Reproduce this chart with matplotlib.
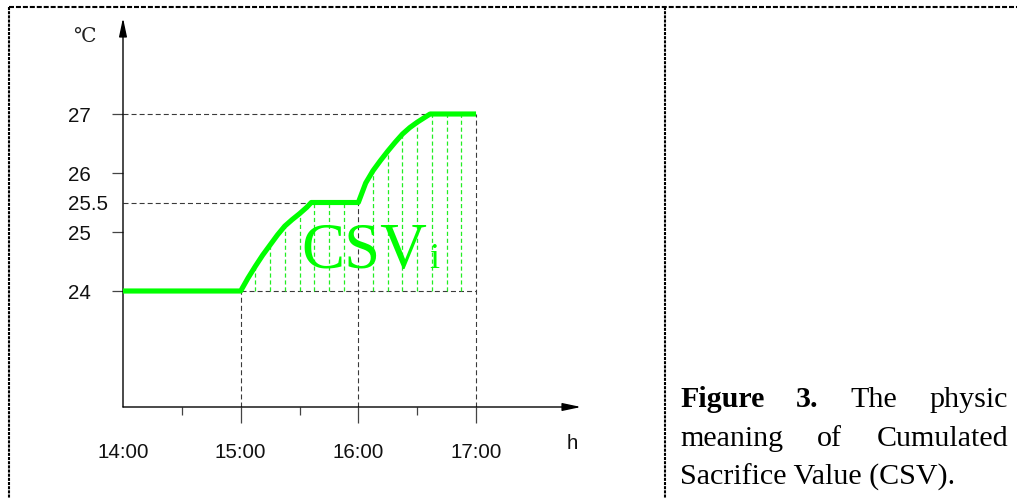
import matplotlib
matplotlib.use("Agg")
import matplotlib.pyplot as plt
import numpy as np
from matplotlib.lines import Line2D
from matplotlib.transforms import blended_transform_factory

# ---------------- data ----------------
time_h = [14.0, 15.0, 15.0625, 15.125, 15.1875, 15.25, 15.3125, 15.375, 15.4375,
          15.5, 15.5625, 15.6, 16.0, 16.0625, 16.125, 16.1875, 16.25, 16.3125,
          16.375, 16.4375, 16.5, 16.5625, 16.61, 17.0]
temp_c = [24.0, 24.0, 24.22, 24.42, 24.61, 24.78, 24.95, 25.1, 25.21,
          25.31, 25.42, 25.5, 25.5, 25.83, 26.04, 26.21, 26.37, 26.52,
          26.66, 26.77, 26.86, 26.94, 27.0, 27.0]
hatch_times = [15.125, 15.25, 15.375, 15.5, 15.625, 15.75, 15.875,
               16.125, 16.25, 16.375, 16.5, 16.625, 16.75, 16.875]
x_major = [14, 15, 16, 17]
x_labels = ["14:00", "15:00", "16:00", "17:00"]
x_minor = [14.5, 15.5, 16.5]
y_ticks = [24, 25, 26, 27]
y_label_vals = [27, 26, 25.5, 25, 24]
y_label_txt = ["27", "26", "25.5", "25", "24"]
caption_lines = [["Figure", "3.", "The", "physic"],
                 ["meaning", "of", "Cumulated"],
                 ["Sacrifice Value (CSV)."]]
caption_bold = [[True, True, False, False], [False, False, False], [False]]

# ---------------- figure ----------------
plt.rcParams['lines.scale_dashes'] = False
W, H = 1018, 498
fig = plt.figure(figsize=(W / 100, H / 100), dpi=100)
fig.patch.set_facecolor("white")

ax = fig.add_axes([123 / W, 1 - 407 / H, (581 - 123) / W, (407 - 18) / H])
ax.set_xlim(14.0, 14.0 + (581 - 123) / 117.67)
ax.set_ylim(24 - 116 / 59.0, 24 - 116 / 59.0 + 389 / 59.0)
for s in ax.spines.values():
    s.set_visible(False)
ax.patch.set_visible(False)

# ticks
ax.set_yticks(y_ticks)
ax.set_yticklabels([])
ax.set_xticks(x_major[1:])
ax.set_xticklabels([])
ax.set_xticks(x_minor, minor=True)
ax.tick_params(axis='y', length=7.6, width=0.9, color='#444444', direction='out')
ax.tick_params(axis='x', which='major', length=11.5, width=0.9, color='#444444', direction='out')
ax.tick_params(axis='x', which='minor', length=5.8, width=0.9, color='#444444', direction='out')

# axes with arrows
x0, x1 = ax.get_xlim()
y0, y1 = ax.get_ylim()
ax.annotate('', xy=(x0, y1), xytext=(x0, y0), annotation_clip=False,
            arrowprops=dict(arrowstyle='-|>,head_length=0.8,head_width=0.17',
                            lw=1.0, color='black', shrinkA=0, shrinkB=0),
            fontsize=14)
ax.annotate('', xy=(x1, y0), xytext=(x0, y0), annotation_clip=False,
            arrowprops=dict(arrowstyle='-|>,head_length=0.8,head_width=0.17',
                            lw=1.0, color='black', shrinkA=0, shrinkB=0),
            fontsize=14)

# black dashed guides
dk = dict(color='#3a3a3a', lw=0.8, linestyle=(0, (3.6, 2.2)), zorder=2)
ax.plot([14, 17], [27, 27], **dk)
ax.plot([14, 16], [25.5, 25.5], **dk)
ax.plot([15, 17], [24, 24], **dk)
ax.plot([15, 15], [y0, 24], **dk)
ax.plot([16, 16], [y0, 25.5], **dk)
ax.plot([17, 17], [y0, 27], **dk)

# green hatch lines
tops = np.interp(hatch_times, time_h, temp_c)
for t, top in zip(hatch_times, tops):
    ax.plot([t, t], [24, top], color='#22ee22', lw=0.9,
            linestyle=(0, (3.0, 2.0)), zorder=3)

# main curve
ax.plot(time_h, temp_c, color='#00ff00', lw=3.7, solid_joinstyle='round',
        solid_capstyle='butt', zorder=5)

# CSV_i text
ax.text(15.515, 24.39, "CSV", color='#00ff00', fontsize=46.5,
        family='Liberation Serif', ha='left', va='baseline', zorder=4)
ax.text(16.605, 24.39, "i", color='#00ff00', fontsize=26,
        family='Liberation Serif', ha='left', va='baseline', zorder=4)

# tick labels
tr = blended_transform_factory(ax.transData, fig.transFigure)
for xv, lab in zip(x_major, x_labels):
    ax.text(xv, 1 - 458 / H, lab, transform=tr, ha='center', va='baseline',
            fontsize=14.8, family='Liberation Sans', color='#111111')
for yv, lab in zip(y_label_vals, y_label_txt):
    ax.annotate(lab, xy=(68, yv), xycoords=('figure pixels', 'data'),
                xytext=(0, -5.5), textcoords='offset points',
                ha='left', va='baseline', fontsize=14.8,
                family='Liberation Sans', color='#111111')
fig.text(572 / W, 1 - 449 / H, "h", ha='center', va='baseline', fontsize=14.8,
         family='Liberation Sans', color='#111111')
fig.text(84 / W, 1 - 42 / H, "℃", ha='center', va='baseline', fontsize=14.5,
         family=['DejaVu Serif', 'Noto Sans CJK SC'], color='#222222')

# border
bd = dict(color='black', lw=1.5, transform=fig.transFigure)
fig.add_artist(Line2D([9 / W, 1017 / W], [1 - 7 / H, 1 - 7 / H],
                      linestyle=(0, (3.6, 1.4)), **bd))
fig.add_artist(Line2D([9 / W, 9 / W], [1 - 7 / H, 0], linestyle=(0, (2.2, 0.8)), **bd))
fig.add_artist(Line2D([665 / W, 665 / W], [1 - 7 / H, 0], linestyle=(0, (2.2, 0.8)), **bd))

# caption (justified)
fig.canvas.draw()
renderer = fig.canvas.get_renderer()
left_px, right_px = 680, 1008
baselines = [407, 446, 485]
for li, (words, bolds) in enumerate(zip(caption_lines, caption_bold)):
    objs = []
    for w, b in zip(words, bolds):
        t = fig.text(0, 1 - baselines[li] / H, w, fontsize=21.6,
                     family='Liberation Serif', weight='bold' if b else 'normal',
                     ha='left', va='baseline', color='black')
        objs.append(t)
    widths = [o.get_window_extent(renderer).width for o in objs]
    if len(objs) > 1 and li < len(caption_lines) - 1:
        gap = (right_px - left_px - sum(widths)) / (len(objs) - 1)
    else:
        gap = 0
    x = left_px
    for o, wd in zip(objs, widths):
        o.set_x(x / W)
        x += wd + gap

fig.savefig("out.png", dpi=100, facecolor='white')
